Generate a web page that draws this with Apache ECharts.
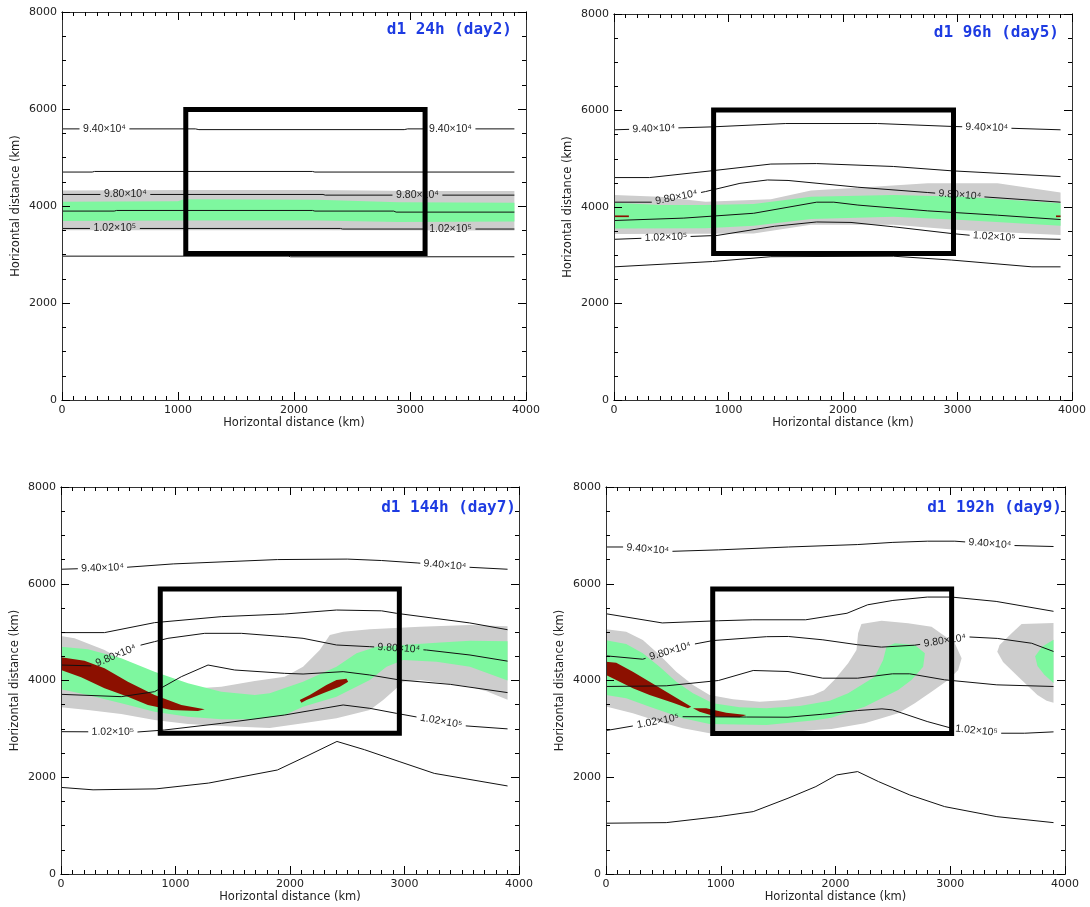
<!DOCTYPE html>
<html>
<head>
<meta charset="utf-8">
<script src="https://cdn.jsdelivr.net/npm/echarts@6/dist/echarts.min.js"></script>
<style>
    html, body { margin: 0; padding: 0; background: #fff; }
    #main { width: 1090px; height: 907px; }
</style>
</head>
<body>
<div id="main"></div>
<script>
    // ---- tick labels / titles ----
    const xTickLabels = [0, 1000, 2000, 3000, 4000];
    const yTickLabels = [0, 2000, 4000, 6000, 8000];
    const xMinorStep = 100;
    const yMinorStep = 500;
    const axisName = 'Horizontal distance (km)';
    const titles = ['d1 24h (day2)', 'd1 96h (day5)', 'd1 144h (day7)', 'd1 192h (day9)'];

    // ---- panel 1 : 24h ----
    const p1Lines = [
        [[0,5590],[1150,5590],[1180,5575],[2950,5575],[2980,5590],[3900,5590]],
        [[0,4700],[260,4700],[280,4712],[2160,4712],[2180,4700],[3900,4700]],
        [[0,4238],[2250,4238],[2270,4224],[3900,4224]],
        [[0,3895],[450,3895],[470,3908],[2160,3908],[2180,3895],[2860,3895],[2880,3874],[3900,3874]],
        [[0,3537],[2400,3537],[2420,3525],[3900,3525]],
        [[0,2966],[1950,2966],[1970,2953],[3900,2953]]
    ];
    // [line index, centre x, text]
    const p1Labels = [[0,366,'9.40×10⁴'],[0,3349,'9.40×10⁴'],[2,546,'9.80×10⁴'],[2,3064,'9.80×10⁴'],[4,456,'1.02×10⁵'],[4,3349,'1.02×10⁵']];
    const p1Gray = [[[0,4320],[1050,4330],[2200,4330],[3000,4310],[3900,4310],[3900,3495],[2200,3500],[0,3500]]];
    const p1Green = [[[0,4090],[1000,4100],[1050,4140],[2200,4130],[2900,4075],[3900,4065],[3900,3680],[2900,3672],[2200,3700],[1050,3702],[0,3690]]];
    const p1Red = [];
    const p1Box = [1067, 3020, 3130, 5990];

    // ---- panel 2 : 96h ----
    const p2Lines = [
        [[0,5600],[850,5660],[1500,5730],[2300,5730],[2950,5670],[3900,5600]],
        [[0,4610],[310,4610],[850,4750],[1370,4890],[1770,4900],[2440,4840],[2950,4750],[3900,4630]],
        [[0,4100],[330,4100],[800,4320],[1100,4490],[1340,4560],[1520,4550],[2130,4410],[2740,4300],[3230,4210],[3900,4100]],
        [[0,3720],[610,3770],[1220,3870],[1770,4100],[1920,4100],[2130,4040],[2740,3920],[3350,3830],[3900,3740]],
        [[0,3330],[900,3410],[1400,3600],[1770,3690],[2070,3680],[2440,3590],[2950,3450],[3350,3360],[3900,3330]],
        [[0,2760],[860,2870],[1370,2970],[2440,2980],[2950,2900],[3650,2760],[3900,2760]]
    ];
    const p2Labels = [[0,347,'9.40×10⁴'],[0,3256,'9.40×10⁴'],[2,545,'9.80×10⁴'],[2,3020,'9.80×10⁴'],[4,454,'1.02×10⁵'],[4,3321,'1.02×10⁵']];
    const p2Gray = [[[0,4250],[400,4210],[800,4110],[1370,4160],[1720,4340],[2130,4400],[2740,4490],[3350,4490],[3900,4300],[3900,3420],[3040,3520],[2440,3630],[1720,3630],[1220,3450],[800,3445],[0,3440]]];
    const p2Green = [[[0,4090],[400,4040],[800,4040],[1220,4060],[1720,4210],[2440,4250],[3040,4210],[3900,4080],[3900,3610],[3040,3730],[2440,3800],[1720,3750],[1220,3610],[800,3560],[0,3555]]];
    const p2Red = [
        [[0,3825],[130,3825],[130,3790],[0,3790]],
        [[3860,3825],[3900,3825],[3900,3790],[3860,3790]]
    ];
    const p2Box = [870, 3035, 2965, 6010];

    // ---- panel 3 : 144h ----
    const p3Lines = [
        [[0,6300],[570,6340],[980,6410],[1890,6500],[2500,6510],[2800,6480],[3110,6430],[3570,6340],[3900,6300]],
        [[0,4990],[380,4990],[817,5196],[1400,5320],[1954,5375],[2406,5457],[2800,5440],[2930,5389],[3570,5190],[3900,5050]],
        [[0,4320],[300,4300],[643,4699],[817,4803],[934,4872],[1255,4975],[1575,4975],[1954,4906],[2114,4872],[2406,4734],[2697,4699],[3193,4630],[3572,4527],[3900,4400]],
        [[0,3714],[526,3666],[817,3769],[1051,4079],[1284,4320],[1517,4217],[1954,4148],[2114,4134],[2464,4183],[2697,4114],[2960,4010],[3400,3920],[3900,3750]],
        [[0,2942],[680,2935],[905,2977],[1400,3114],[1954,3287],[2464,3494],[2697,3425],[2930,3321],[3542,3059],[3900,3000]],
        [[0,1790],[280,1740],[830,1760],[1290,1880],[1890,2150],[2140,2430],[2410,2740],[2650,2570],[2960,2320],[3260,2080],[3900,1820]]
    ];
    const p3Labels = [[0,362,'9.40×10⁴'],[0,3353,'9.40×10⁴'],[2,480,'9.80×10⁴'],[2,2950,'9.80×10⁴'],[4,453,'1.02×10⁵'],[4,3320,'1.02×10⁵']];
    const p3Gray = [[[0,4920],[118,4872],[380,4630],[584,4355],[817,4045],[963,3941],[1196,3838],[1400,3873],[1692,3990],[1954,4080],[2114,4286],[2260,4630],[2348,4941],[2464,5009],[2697,5058],[3134,5113],[3572,5147],[3900,5120],[3900,3600],[3717,3780],[3572,3873],[3134,4010],[2989,3976],[2930,3838],[2814,3597],[2697,3390],[2406,3218],[2114,3114],[1823,3020],[1400,3059],[1109,3101],[817,3183],[526,3307],[235,3390],[0,3445]]];
    const p3Green = [[[0,4699],[235,4644],[526,4458],[817,4183],[1109,3941],[1400,3769],[1692,3700],[1823,3735],[2114,3976],[2406,4286],[2581,4562],[2756,4699],[2989,4734],[3280,4782],[3572,4823],[3900,4810],[3900,4000],[3572,4286],[3280,4389],[2989,4424],[2843,4286],[2697,4010],[2406,3666],[2114,3459],[1954,3287],[1692,3197],[1400,3197],[1109,3252],[817,3356],[526,3528],[235,3700],[0,3817]]];
    const p3Red = [
        [[0,4479],[205,4410],[380,4252],[584,3976],[817,3700],[1051,3494],[1255,3404],[1196,3370],[963,3390],[759,3494],[584,3666],[380,3838],[176,4065],[0,4217]],
        [[2085,3597],[2173,3700],[2318,3907],[2406,4010],[2493,4038],[2508,3976],[2435,3873],[2289,3735],[2144,3597],[2100,3542]]
    ];
    const p3Box = [867, 2910, 2955, 5890];

    // ---- panel 4 : 192h ----
    const p4Lines = [
        [[0,6760],[160,6760],[570,6670],[980,6700],[1590,6760],[2190,6810],[2500,6855],[2800,6880],[3040,6880],[3560,6790],[3900,6770]],
        [[0,5380],[490,5190],[980,5235],[1280,5255],[1740,5255],[2100,5390],[2280,5565],[2500,5655],[2800,5725],[3010,5725],[3400,5635],[3900,5430]],
        [[0,4510],[320,4440],[730,4735],[930,4825],[1400,4906],[1590,4910],[1890,4841],[2190,4740],[2400,4690],[2690,4730],[3170,4900],[3410,4870],[3710,4770],[3900,4600]],
        [[0,3876],[525,3890],[980,4000],[1283,4207],[1586,4186],[1889,4048],[2193,4048],[2496,4138],[2647,4138],[2951,4014],[3406,3910],[3900,3876]],
        [[0,2965],[234,3060],[656,3252],[1223,3245],[1586,3241],[1889,3303],[2193,3379],[2405,3414],[2496,3393],[2799,3152],[3011,3014],[3436,2910],[3648,2910],[3900,2938]],
        [[0,1050],[525,1062],[980,1186],[1283,1290],[1586,1566],[1829,1807],[2011,2048],[2193,2117],[2375,1910],[2647,1634],[2951,1393],[3406,1186],[3900,1062]]
    ];
    const p4Labels = [[0,364,'9.40×10⁴'],[0,3345,'9.40×10⁴'],[2,560,'9.80×10⁴'],[2,2953,'9.80×10⁴'],[4,453,'1.02×10⁵'],[4,3229,'1.02×10⁵']];
    const p4Gray = [
        [[0,5060],[176,5009],[321,4837],[467,4527],[612,4183],[758,3907],[903,3700],[1107,3611],[1339,3562],[1572,3597],[1804,3700],[1900,3800],[1990,4010],[2110,4355],[2183,4630],[2197,4975],[2226,5168],[2401,5237],[2633,5182],[2837,5113],[3040,4768],[3099,4458],[3069,4217],[2982,4010],[2837,3769],[2691,3528],[2546,3321],[2255,3114],[1964,3000],[1819,2977],[1397,2894],[903,2908],[670,3011],[467,3149],[234,3321],[0,3460]],
        [[3900,5190],[3622,5170],[3535,4975],[3430,4734],[3410,4596],[3460,4380],[3622,4010],[3760,3700],[3840,3580],[3900,3540]]
    ];
    const p4Green = [
        [[0,4830],[176,4755],[321,4562],[467,4286],[612,3976],[758,3735],[932,3528],[1165,3445],[1397,3425],[1688,3473],[1950,3580],[2110,3735],[2342,4079],[2415,4424],[2444,4699],[2517,4768],[2691,4734],[2779,4562],[2764,4286],[2662,4010],[2546,3804],[2255,3459],[1964,3230],[1819,3180],[1397,3080],[903,3101],[670,3218],[380,3459],[176,3632],[0,3700]],
        [[3900,4840],[3800,4700],[3740,4500],[3760,4300],[3820,4120],[3900,3950]]
    ];
    const p4Red = [
        [[0,4389],[89,4368],[234,4183],[380,3976],[525,3769],[670,3562],[743,3459],[714,3425],[583,3542],[380,3700],[234,3838],[89,4010],[0,4114]],
        [[758,3425],[874,3425],[1048,3335],[1223,3287],[1165,3239],[961,3252],[816,3356]]
    ];
    const p4Box = [930, 2905, 3012, 5890];

    const panels = [
        {lines: p1Lines, labels: p1Labels, gray: p1Gray, green: p1Green, red: p1Red, box: p1Box},
        {lines: p2Lines, labels: p2Labels, gray: p2Gray, green: p2Green, red: p2Red, box: p2Box},
        {lines: p3Lines, labels: p3Labels, gray: p3Gray, green: p3Green, red: p3Red, box: p3Box},
        {lines: p4Lines, labels: p4Labels, gray: p4Gray, green: p4Green, red: p4Red, box: p4Box}
    ];

    // layout of the four plot boxes
    const grids = [
        {left: 62, top: 12, width: 464, height: 388},
        {left: 614, top: 14, width: 458, height: 386},
        {left: 61, top: 487, width: 458, height: 387},
        {left: 606, top: 487, width: 459, height: 387}
    ];
    const titlePos = [{right: 578, top: 22}, {right: 31, top: 25}, {right: 574, top: 500}, {right: 28, top: 500}];

    const GAP = 215; // half width of the hole cut for a contour label (km)
    const frameColor = '#333';
    const tickColor = '#000';
    const textFont = 'DejaVu Sans';
    const AX_PER_GRID = 4; // major side A/B + minor side A/B

    function yAt (line, x) {
        for (let i = 0; i < line.length - 1; i++) {
            const a = line[i], b = line[i + 1];
            if (x >= a[0] && x <= b[0]) {
                return a[1] + (b[1] - a[1]) * (x - a[0]) / (b[0] - a[0]);
            }
        }
        return x < line[0][0] ? line[0][1] : line[line.length - 1][1];
    }

    // break the polyline where labels sit
    function withGaps (line, gaps) {
        const out = [];
        const g = gaps.slice().sort((a, b) => a[0] - b[0]);
        let gi = 0;
        line.forEach(p => {
            while (gi < g.length && g[gi][1] <= p[0]) {
                out.push([g[gi][0], yAt(line, g[gi][0])], ['-', '-'], [g[gi][1], yAt(line, g[gi][1])]);
                gi++;
            }
            if (gi < g.length && p[0] > g[gi][0]) return;
            out.push(p);
        });
        return out;
    }

    function onAxes (gi, obj) {
        obj.xAxisIndex = gi * AX_PER_GRID;
        obj.yAxisIndex = gi * AX_PER_GRID;
        return obj;
    }

    function polySeries (gi, pts, fill, z) {
        return onAxes(gi, {
            type: 'custom',
            coordinateSystem: 'cartesian2d',
            data: pts,
            z: z,
            silent: true,
            animation: false,
            clip: true,
            renderItem: (params, api) => {
                if (params.dataIndex !== 0) return null;
                return {
                    type: 'polygon',
                    shape: {points: pts.map(p => api.coord(p))},
                    style: {fill: fill}
                };
            }
        });
    }

    function boxSeries (gi, box) {
        const corners = [[box[0], box[1]], [box[2], box[1]], [box[2], box[3]], [box[0], box[3]]];
        return onAxes(gi, {
            type: 'custom',
            coordinateSystem: 'cartesian2d',
            data: corners,
            z: 8,
            silent: true,
            animation: false,
            renderItem: (params, api) => {
                if (params.dataIndex !== 0) return null;
                return {
                    type: 'polygon',
                    shape: {points: corners.map(p => api.coord(p))},
                    style: {fill: 'none', stroke: '#000', lineWidth: 5, lineJoin: 'miter'}
                };
            }
        });
    }

    function labelSeries (gi, lines, labels) {
        return onAxes(gi, {
            type: 'custom',
            coordinateSystem: 'cartesian2d',
            data: labels.map(l => [l[1], yAt(lines[l[0]], l[1])]),
            z: 6,
            silent: true,
            animation: false,
            renderItem: (params, api) => {
                const l = labels[params.dataIndex];
                const line = lines[l[0]];
                const a = l[1] - GAP, b = l[1] + GAP;
                const pa = api.coord([a, yAt(line, a)]);
                const pb = api.coord([b, yAt(line, b)]);
                const ang = Math.atan2(-(pb[1] - pa[1]), pb[0] - pa[0]);
                return {
                    type: 'text',
                    x: (pa[0] + pb[0]) / 2,
                    y: (pa[1] + pb[1]) / 2,
                    rotation: ang,
                    style: {
                        text: l[2],
                        x: 0, y: 0,
                        fill: '#222',
                        fontSize: 10.5,
                        fontFamily: 'Liberation Sans',
                        font: '10.5px "Liberation Sans"',
                        align: 'center', verticalAlign: 'middle',
                        textAlign: 'center', textVerticalAlign: 'middle'
                    }
                };
            }
        });
    }

    // per side pair: [major side A, major side B, minor side A, minor side B]
    function axisSet (gi, ticks, minorStep, sides, nameGap) {
        const make = (pos, interval, len) => ({
            gridIndex: gi, type: 'value', z: 10,
            min: ticks[0], max: ticks[ticks.length - 1],
            position: pos, interval: interval,
            splitLine: {show: false},
            axisLine: {show: true, onZero: false, lineStyle: {color: frameColor, width: 1}},
            axisTick: {show: true, inside: true, length: len, lineStyle: {color: tickColor, width: 1}},
            axisLabel: {show: false}
        });
        const list = [];
        sides.forEach(pos => list.push(make(pos, ticks[1] - ticks[0], 8)));
        sides.forEach(pos => list.push(make(pos, minorStep, 4)));
        Object.assign(list[0], {
            name: axisName, nameLocation: 'middle', nameGap: nameGap,
            nameTextStyle: {fontFamily: textFont, fontSize: 11.5, color: '#222'},
            axisLabel: {show: true, margin: 5, fontFamily: textFont, fontSize: 11, color: '#222',
                formatter: v => String(v)}
        });
        return list;
    }

    const xAxis = [], yAxis = [], series = [];

    grids.forEach((g, gi) => {
        xAxis.push(...axisSet(gi, xTickLabels, xMinorStep, ['bottom', 'top'], 17));
        yAxis.push(...axisSet(gi, yTickLabels, yMinorStep, ['left', 'right'], 40));

        const p = panels[gi];
        p.gray.forEach(poly => series.push(polySeries(gi, poly, '#cdcdcd', 1)));
        p.green.forEach(poly => series.push(polySeries(gi, poly, '#7ef79f', 2)));
        p.red.forEach(poly => series.push(polySeries(gi, poly, '#8c1000', 3)));

        p.lines.forEach((line, li) => {
            const gaps = p.labels.filter(l => l[0] === li).map(l => [l[1] - GAP, l[1] + GAP]);
            series.push(onAxes(gi, {
                type: 'line',
                data: withGaps(line, gaps),
                symbol: 'none',
                showSymbol: false,
                connectNulls: false,
                clip: true,
                silent: true,
                animation: false,
                z: 4,
                lineStyle: {color: '#111', width: 1}
            }));
        });
        series.push(labelSeries(gi, p.lines, p.labels));
        series.push(boxSeries(gi, p.box));
    });

    const option = {
        backgroundColor: '#fff',
        animation: false,
        title: titles.map((t, i) => ({
            text: t,
            right: titlePos[i].right,
            top: titlePos[i].top,
            padding: 0,
            textStyle: {fontFamily: 'DejaVu Sans Mono', fontSize: 16, fontWeight: 'bold', color: '#1d3be2'}
        })),
        grid: grids.map(g => Object.assign({containLabel: false, outerBoundsMode: 'none'}, g)),
        xAxis: xAxis,
        yAxis: yAxis,
        series: series
    };

    const myChart = echarts.init(document.getElementById('main'), null, {renderer: 'canvas'});
    myChart.setOption(option);
</script>
</body>
</html>
